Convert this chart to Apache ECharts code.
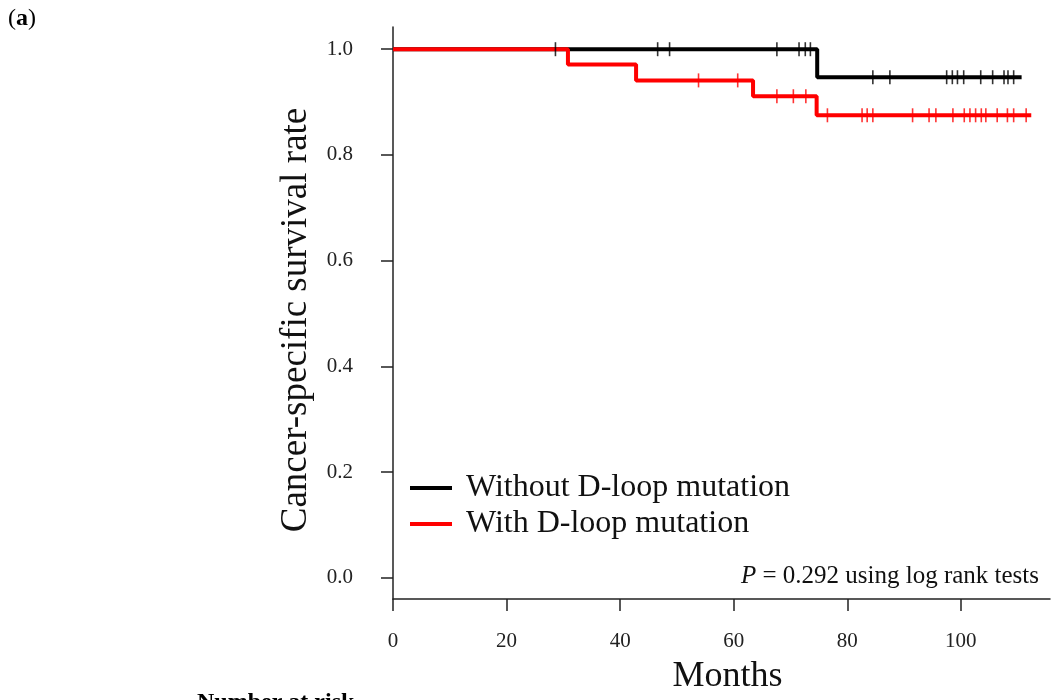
<!DOCTYPE html>
<html>
<head>
<meta charset="utf-8">
<script src="https://cdn.jsdelivr.net/npm/echarts@6/dist/echarts.min.js"></script>
<style>html,body{margin:0;padding:0;background:#fff}#c{width:1059px;height:700px}</style>
</head>
<body>
<div id="c"></div>
<script>
// Kaplan-Meier step points [months, survival]
var withoutSteps = [[0, 1.0], [74.7, 0.947], [110.7, 0.947]];
var withSteps = [[0, 1.0], [30.8, 0.971], [42.8, 0.941], [63.4, 0.911], [74.6, 0.875], [112.4, 0.875]];
// censoring marks [months, survival]
var withoutCensor = [[28.6, 1.0], [46.6, 1.0], [48.7, 1.0], [67.6, 1.0], [71.5, 1.0], [72.6, 1.0], [73.5, 1.0],
  [84.5, 0.947], [87.5, 0.947], [97.5, 0.947], [98.5, 0.947], [99.4, 0.947], [100.5, 0.947], [103.5, 0.947],
  [105.6, 0.947], [107.6, 0.947], [108.3, 0.947], [109.3, 0.947]];
var withCensor = [[53.8, 0.941], [60.7, 0.941], [67.6, 0.911], [70.5, 0.911], [72.7, 0.911],
  [76.5, 0.875], [82.6, 0.875], [83.5, 0.875], [84.5, 0.875], [91.5, 0.875], [94.4, 0.875], [95.6, 0.875],
  [98.6, 0.875], [100.6, 0.875], [101.6, 0.875], [102.6, 0.875], [103.6, 0.875], [104.4, 0.875],
  [106.4, 0.875], [108.2, 0.875], [109.3, 0.875], [111.5, 0.875]];
var seriesNames = ['Without D-loop mutation', 'With D-loop mutation'];
var xTicks = [0, 20, 40, 60, 80, 100];
var yTicks = [0.0, 0.2, 0.4, 0.6, 0.8, 1.0];

var FONT = 'Liberation Serif';
var chart = echarts.init(document.getElementById('c'), null, {renderer: 'canvas'});
chart.setOption({
  animation: false,
  textStyle: {fontFamily: FONT},
  grid: {left: 393, right: 9, top: 27, bottom: 100},
  xAxis: {
    type: 'value', min: -0.01, max: 115.7,
    name: 'Months', nameLocation: 'middle', nameGap: 60,
    nameTextStyle: {fontFamily: FONT, fontSize: 36, color: '#111', padding: [0, 0, 0, 12]},
    axisLine: {show: true, onZero: false, lineStyle: {color: '#222', width: 1.5}},
    axisTick: {show: true, length: 12, lineStyle: {color: '#222', width: 1.5}, customValues: xTicks},
    axisLabel: {fontFamily: FONT, fontSize: 21, color: '#222', margin: 32, customValues: xTicks},
    splitLine: {show: false}
  },
  yAxis: {
    type: 'value', min: -0.04, max: 1.042,
    axisLine: {show: true, onZero: false, lineStyle: {color: '#222', width: 1.5}},
    axisTick: {show: true, length: 12, lineStyle: {color: '#222', width: 1.5}, customValues: yTicks},
    axisLabel: {fontFamily: FONT, fontSize: 21, color: '#222', margin: 40, customValues: yTicks,
      formatter: function (v) { return v.toFixed(1); }},
    splitLine: {show: false}
  },
  legend: {
    orient: 'vertical', left: 405, top: 467, itemWidth: 42, itemHeight: 4, itemGap: 4,
    icon: 'rect',
    textStyle: {fontFamily: FONT, fontSize: 32, color: '#111', lineHeight: 31, padding: [0, 0, 0, 9]},
    data: seriesNames
  },
  series: [
    {name: seriesNames[0], type: 'line', step: 'end', data: withoutSteps, symbol: 'none',
      lineStyle: {color: '#000', width: 4}, itemStyle: {color: '#000'}, z: 2},
    {name: seriesNames[1], type: 'line', step: 'end', data: withSteps, symbol: 'none',
      lineStyle: {color: '#ff0000', width: 4}, itemStyle: {color: '#ff0000'}, z: 3},
    {type: 'scatter', data: withoutCensor, symbol: 'rect', symbolSize: [1.6, 14],
      itemStyle: {color: '#000'}, z: 4, silent: true},
    {type: 'scatter', data: withCensor, symbol: 'rect', symbolSize: [1.6, 14],
      itemStyle: {color: '#ff0000'}, z: 4, silent: true}
  ],
  graphic: [
    {type: 'text', x: 296, y: 320, rotation: Math.PI / 2,
      style: {text: 'Cancer-specific survival rate', fontFamily: FONT, fontSize: 37, fill: '#111',
        align: 'center', verticalAlign: 'middle'}},
    {type: 'text', left: 8, top: 7, style: {text: '({b|a})', fontFamily: FONT, fontSize: 24, fill: '#000',
      rich: {b: {fontWeight: 'bold', fontFamily: FONT, fontSize: 24}}}},
    {type: 'text', right: 20, top: 564, style: {text: '{i|P} = 0.292 using log rank tests', fontFamily: FONT,
      fontSize: 25, fill: '#111', rich: {i: {fontStyle: 'italic', fontFamily: FONT, fontSize: 25}}}},
    {type: 'text', left: 197, top: 691, style: {text: 'Number at risk', fontFamily: FONT, fontSize: 24,
      fontWeight: 'bold', fill: '#000'}}
  ]
});
</script>
</body>
</html>
